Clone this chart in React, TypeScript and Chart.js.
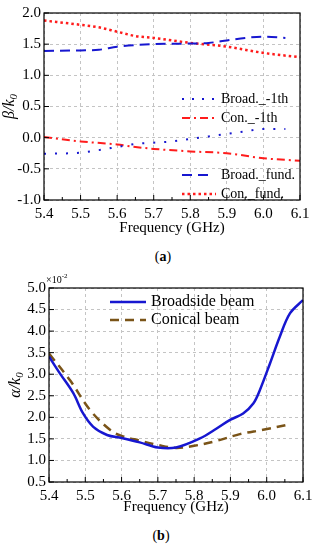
import React, { useEffect, useRef } from "react";
import { Chart, registerables } from "chart.js";

Chart.register(...registerables);

// ---------- Data: chart (a) ----------
const xBroadFund = [5.4, 5.5, 5.55, 5.6, 5.7, 5.8, 5.85, 5.9, 5.95, 6.0, 6.06];
const yBroadFund = [1.39, 1.4, 1.41, 1.46, 1.5, 1.51, 1.52, 1.56, 1.6, 1.62, 1.6];
const xConFund = [5.4, 5.5, 5.55, 5.6, 5.65, 5.7, 5.8, 5.9, 6.0, 6.1];
const yConFund = [1.88, 1.81, 1.77, 1.7, 1.63, 1.6, 1.52, 1.46, 1.36, 1.29];
const xBroadM1 = [5.4, 5.5, 5.55, 5.6, 5.65, 5.7, 5.75, 5.8, 5.85, 5.9, 5.95, 6.0, 6.06];
const yBroadM1 = [-0.26, -0.24, -0.2, -0.15, -0.1, -0.08, -0.06, -0.02, 0.02, 0.06, 0.1, 0.14, 0.14];
const xConM1 = [5.4, 5.5, 5.6, 5.65, 5.7, 5.8, 5.9, 6.0, 6.1];
const yConM1 = [0.01, -0.06, -0.11, -0.15, -0.18, -0.22, -0.25, -0.33, -0.37];

// ---------- Data: chart (b) ----------
const xBroadside = [5.4, 5.43, 5.467, 5.494, 5.522, 5.56, 5.6, 5.65, 5.7, 5.75, 5.816, 5.862, 5.899, 5.935, 5.963, 5.981, 6.009, 6.036, 6.064, 6.1];
const yBroadside = [3.41, 3.02, 2.56, 2.09, 1.78, 1.59, 1.52, 1.42, 1.3, 1.3, 1.51, 1.74, 1.94, 2.09, 2.32, 2.63, 3.25, 3.87, 4.41, 4.72];
const xConical = [5.4, 5.458, 5.513, 5.568, 5.6, 5.65, 5.7, 5.75, 5.8, 5.86, 5.926, 5.99, 6.064];
const yConical = [3.48, 2.86, 2.17, 1.71, 1.57, 1.46, 1.36, 1.29, 1.34, 1.45, 1.61, 1.71, 1.84];

const xTicksLabel = (v: number) => Number(v).toFixed(1);

const FONT = "'Liberation Serif', 'DejaVu Serif', serif";
const BLUE = "#1717d0";
const RED = "#ff1c1c";
const BROWN = "#7a5418";

const pts = (xs: number[], ys: number[]) => xs.map((x, i) => ({ x, y: ys[i] }));

const framePlugin = {
  id: "frame",
  afterDraw(chart: any, _args: any, opts: any) {
    const { ctx, chartArea: a, scales } = chart;
    ctx.save();
    ctx.setLineDash([]);
    ctx.strokeStyle = "#000";
    ctx.lineWidth = 1.2;
    ctx.strokeRect(a.left, a.top, a.width, a.height);
    ctx.lineWidth = 1;
    const xs = scales.x;
    const xt = xs.ticks.map((t: any) => t.value);
    xt.forEach((v: number, i: number) => {
      const px = xs.getPixelForValue(v);
      ctx.beginPath();
      ctx.moveTo(px, a.bottom);
      ctx.lineTo(px, a.bottom - 5);
      ctx.stroke();
      if (i < xt.length - 1) {
        const mx = xs.getPixelForValue((v + xt[i + 1]) / 2);
        ctx.beginPath();
        ctx.moveTo(mx, a.bottom);
        ctx.lineTo(mx, a.bottom - 3);
        ctx.stroke();
      }
    });
    const ys = scales.y;
    ys.ticks.forEach((t: any) => {
      const py = ys.getPixelForValue(t.value);
      ctx.beginPath();
      ctx.moveTo(a.left, py);
      ctx.lineTo(a.left + 5, py);
      ctx.stroke();
    });
    ctx.fillStyle = "#000";
    ctx.font = `15px ${FONT}`;
    ctx.textAlign = "center";
    ctx.textBaseline = "middle";
    ctx.fillText("Frequency (GHz)", (a.left + a.right) / 2, opts.xTitleY);
    ctx.save();
    ctx.translate(opts.yTitleX, (a.top + a.bottom) / 2);
    ctx.rotate(-Math.PI / 2);
    ctx.font = `italic 16px ${FONT}`;
    const main = opts.yTitle;
    const sub = "0";
    const wm = ctx.measureText(main).width;
    ctx.font = `italic 11px ${FONT}`;
    const ws = ctx.measureText(sub).width;
    const start = -(wm + ws) / 2;
    ctx.textAlign = "left";
    ctx.font = `italic 16px ${FONT}`;
    ctx.fillText(main, start, 0);
    ctx.font = `italic 11px ${FONT}`;
    ctx.fillText(sub, start + wm, 4);
    ctx.restore();
    if (opts.exponent) {
      ctx.textAlign = "left";
      ctx.font = `10px ${FONT}`;
      ctx.fillText("×10", a.left - 3, a.top - 8);
      const w = ctx.measureText("×10").width;
      ctx.font = `7px ${FONT}`;
      ctx.fillText("-2", a.left - 3 + w, a.top - 12);
    }
    (opts.items || []).forEach((it: any) => {
      ctx.save();
      ctx.strokeStyle = it.color;
      ctx.lineWidth = it.width;
      ctx.setLineDash(it.dash);
      ctx.beginPath();
      ctx.moveTo(it.x1, it.y);
      ctx.lineTo(it.x2, it.y);
      ctx.stroke();
      ctx.restore();
      ctx.fillStyle = "#000";
      ctx.font = `${opts.legendSize}px ${FONT}`;
      ctx.textAlign = "left";
      ctx.textBaseline = "middle";
      ctx.fillText(it.label, it.tx, it.y);
    });
    ctx.restore();
  },
};

function makeScales(yMin: number, yMax: number, yWidth: number, xHeight: number) {
  const grid = {
    color: "#c4c4c4",
    lineWidth: 1,
    drawTicks: false,
  };
  return {
    x: {
      type: "linear",
      min: 5.4,
      max: 6.1,
      ticks: {
        stepSize: 0.1,
        callback: xTicksLabel,
        color: "#000",
        font: { family: FONT, size: 15 },
        padding: 5,
        maxRotation: 0,
      },
      grid: { ...grid },
      border: { display: false, dash: [3, 3] },
      afterFit: (s: any) => {
        s.height = xHeight;
      },
    },
    y: {
      type: "linear",
      min: yMin,
      max: yMax,
      ticks: {
        stepSize: 0.5,
        callback: (v: number) => Number(v).toFixed(1),
        color: "#000",
        font: { family: FONT, size: 15 },
        padding: 3,
      },
      grid: { ...grid },
      border: { display: false, dash: [3, 3] },
      afterFit: (s: any) => {
        s.width = yWidth;
      },
    },
  };
}

function ChartA() {
  const ref = useRef<HTMLCanvasElement>(null);
  useEffect(() => {
    const ds = (label: string, xs: number[], ys: number[], color: string, dash: number[], width: number) => ({
      label,
      data: pts(xs, ys),
      borderColor: color,
      borderWidth: width,
      borderDash: dash,
      pointRadius: 0,
      fill: false,
      cubicInterpolationMode: "monotone",
    });
    const chart = new Chart(ref.current as HTMLCanvasElement, {
      type: "line",
      data: {
        datasets: [
          ds("Broad._fund.", xBroadFund, yBroadFund, BLUE, [10, 6], 2),
          ds("Con._fund.", xConFund, yConFund, RED, [2.5, 3], 2.5),
          ds("Broad._-1th", xBroadM1, yBroadM1, BLUE, [2, 9], 2),
          ds("Con._-1th", xConM1, yConM1, RED, [8, 4, 2, 4], 2),
        ] as any,
      },
      options: {
        animation: false,
        responsive: false,
        events: [],
        layout: { padding: { top: 13, right: 18, left: 0, bottom: 0 } },
        scales: makeScales(-1, 2, 44, 40) as any,
        plugins: {
          legend: { display: false },
          tooltip: { enabled: false },
          frame: {
            xTitleY: 228,
            yTitleX: 10,
            yTitle: "β/k",
            legendSize: 14,
            items: [
              { label: "Broad._-1th", color: BLUE, dash: [2, 8], width: 2, x1: 182, x2: 216, tx: 221, y: 99 },
              { label: "Con._-1th", color: RED, dash: [8, 4, 2, 4], width: 2, x1: 182, x2: 216, tx: 221, y: 118 },
              { label: "Broad._fund.", color: BLUE, dash: [10, 6], width: 2, x1: 182, x2: 210, tx: 221, y: 175 },
              { label: "Con._fund.", color: RED, dash: [2.5, 3], width: 2.5, x1: 182, x2: 216, tx: 221, y: 194 },
            ],
          },
        } as any,
      },
      plugins: [framePlugin],
    });
    return () => chart.destroy();
  }, []);
  return <canvas ref={ref} width={318} height={240} style={{ display: "block", width: 318, height: 240 }} />;
}

function ChartB() {
  const ref = useRef<HTMLCanvasElement>(null);
  useEffect(() => {
    const chart = new Chart(ref.current as HTMLCanvasElement, {
      type: "line",
      data: {
        datasets: [
          {
            label: "Broadside beam",
            data: pts(xBroadside, yBroadside),
            borderColor: BLUE,
            borderWidth: 2.5,
            pointRadius: 0,
            fill: false,
            tension: 0.35,
          },
          {
            label: "Conical beam",
            data: pts(xConical, yConical),
            borderColor: BROWN,
            borderWidth: 2.5,
            borderDash: [9, 6],
            pointRadius: 0,
            fill: false,
            tension: 0.35,
          },
        ] as any,
      },
      options: {
        animation: false,
        responsive: false,
        events: [],
        layout: { padding: { top: 18, right: 15, left: 0, bottom: 0 } },
        scales: makeScales(0.5, 5.0, 49, 33) as any,
        plugins: {
          legend: { display: false },
          tooltip: { enabled: false },
          frame: {
            xTitleY: 237,
            yTitleX: 16,
            yTitle: "α/k",
            exponent: true,
            legendSize: 16,
            items: [
              { label: "Broadside beam", color: BLUE, dash: [], width: 2.5, x1: 110, x2: 146, tx: 151, y: 32 },
              { label: "Conical beam", color: BROWN, dash: [9, 6], width: 2.5, x1: 110, x2: 146, tx: 151, y: 50 },
            ],
          },
        } as any,
      },
      plugins: [framePlugin],
    });
    return () => chart.destroy();
  }, []);
  return <canvas ref={ref} width={318} height={245} style={{ display: "block", width: 318, height: 245 }} />;
}

export default function App() {
  useEffect(() => {
    document.body.style.margin = "0";
  }, []);
  const cap: React.CSSProperties = {
    position: "absolute",
    left: 0,
    width: 318,
    textAlign: "center",
    fontFamily: FONT,
    fontSize: 14,
    fontWeight: "bold",
    lineHeight: "16px",
  };
  return (
    <div style={{ position: "relative", width: 318, height: 550, background: "#fff", overflow: "hidden" }}>
      <div style={{ position: "absolute", left: 0, top: 0 }}>
        <ChartA />
      </div>
      <div style={{ ...cap, top: 249, left: 4 }}>
        <span style={{ fontWeight: "normal" }}>(</span>a<span style={{ fontWeight: "normal" }}>)</span>
      </div>
      <div style={{ position: "absolute", left: 0, top: 270 }}>
        <ChartB />
      </div>
      <div style={{ ...cap, top: 528, left: 2 }}>
        <span style={{ fontWeight: "normal" }}>(</span>b<span style={{ fontWeight: "normal" }}>)</span>
      </div>
    </div>
  );
}
